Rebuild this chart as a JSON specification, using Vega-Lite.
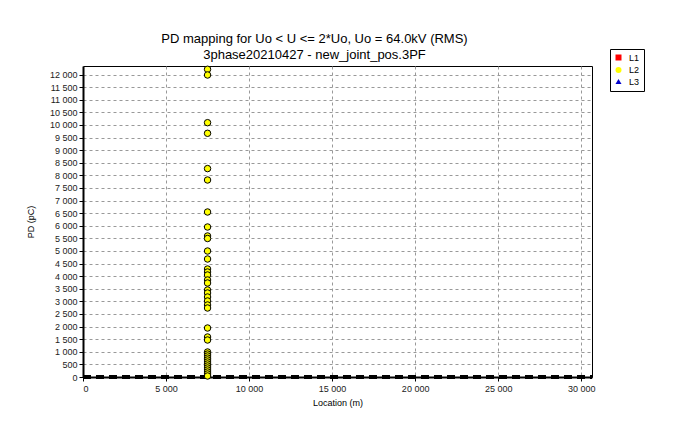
{
  "$schema": "https://vega.github.io/schema/vega-lite/v6.json",
  "width": 509,
  "height": 311,
  "autosize": {"type": "none"},
  "padding": {"left": 83, "top": 66, "right": 81, "bottom": 47},
  "background": "white",
  "config": {
    "locale": {"number": {"decimal": ".", "thousands": " ", "grouping": [3], "currency": ["", ""]}},
    "font": "Liberation Sans",
    "view": {"stroke": "#000", "strokeWidth": 1},
    "legend": {
      "orient": "none",
      "legendX": 527,
      "legendY": -17,
      "strokeColor": "#000",
      "fillColor": "white",
      "padding": 4,
      "labelFontSize": 9,
      "labelColor": "#000",
      "symbolSize": 36,
      "rowPadding": 1.5,
      "labelOffset": 6,
      "symbolStrokeColor": "#000",
      "symbolStrokeWidth": 0.8
    }
  },
  "title": {
    "text": "PD mapping for Uo < U <= 2*Uo, Uo = 64.0kV (RMS)",
    "subtitle": "3phase20210427 - new_joint_pos.3PF",
    "fontSize": 13,
    "fontWeight": "normal",
    "subtitleFontSize": 13,
    "subtitleColor": "#000",
    "color": "#000",
    "anchor": "middle",
    "dx": -23,
    "offset": -13,
    "subtitlePadding": 3,
    "font": "Liberation Sans",
    "subtitleFont": "Liberation Sans"
  },
  "datasets": {
    "cable": [{"loc": 0, "pd": 0}, {"loc": 30650, "pd": 0}],
    "pd": [
      {"loc": 7500, "pd": 12210, "phase": "L2"},
      {"loc": 7500, "pd": 11983, "phase": "L2"},
      {"loc": 7500, "pd": 10091, "phase": "L2"},
      {"loc": 7500, "pd": 9670, "phase": "L2"},
      {"loc": 7500, "pd": 8270, "phase": "L2"},
      {"loc": 7500, "pd": 7817, "phase": "L2"},
      {"loc": 7500, "pd": 6547, "phase": "L2"},
      {"loc": 7500, "pd": 5952, "phase": "L2"},
      {"loc": 7500, "pd": 5595, "phase": "L2"},
      {"loc": 7500, "pd": 5496, "phase": "L2"},
      {"loc": 7500, "pd": 4999, "phase": "L2"},
      {"loc": 7500, "pd": 4682, "phase": "L2"},
      {"loc": 7500, "pd": 4285, "phase": "L2"},
      {"loc": 7500, "pd": 4166, "phase": "L2"},
      {"loc": 7500, "pd": 4047, "phase": "L2"},
      {"loc": 7500, "pd": 3849, "phase": "L2"},
      {"loc": 7500, "pd": 3730, "phase": "L2"},
      {"loc": 7500, "pd": 3452, "phase": "L2"},
      {"loc": 7500, "pd": 3333, "phase": "L2"},
      {"loc": 7500, "pd": 3174, "phase": "L2"},
      {"loc": 7500, "pd": 3016, "phase": "L2"},
      {"loc": 7500, "pd": 2857, "phase": "L2"},
      {"loc": 7500, "pd": 2738, "phase": "L2"},
      {"loc": 7500, "pd": 1944, "phase": "L2"},
      {"loc": 7500, "pd": 1587, "phase": "L2"},
      {"loc": 7500, "pd": 1468, "phase": "L2"},
      {"loc": 7500, "pd": 992, "phase": "L2"},
      {"loc": 7500, "pd": 910, "phase": "L2"},
      {"loc": 7500, "pd": 833, "phase": "L2"},
      {"loc": 7500, "pd": 750, "phase": "L2"},
      {"loc": 7500, "pd": 675, "phase": "L2"},
      {"loc": 7500, "pd": 595, "phase": "L2"},
      {"loc": 7500, "pd": 516, "phase": "L2"},
      {"loc": 7500, "pd": 437, "phase": "L2"},
      {"loc": 7500, "pd": 357, "phase": "L2"},
      {"loc": 7500, "pd": 278, "phase": "L2"},
      {"loc": 7500, "pd": 198, "phase": "L2"},
      {"loc": 7500, "pd": 120, "phase": "L2"},
      {"loc": 7500, "pd": 40, "phase": "L2"}
    ]
  },
  "encoding": {
    "x": {
      "field": "loc",
      "type": "quantitative",
      "scale": {"domain": [0, 30650], "nice": false, "zero": false},
      "axis": {
        "values": [0, 5000, 10000, 15000, 20000, 25000, 30000],
        "format": ",d",
        "title": "Location (m)",
        "titleFontSize": 9,
        "titleFontWeight": "normal",
        "titleColor": "#000",
        "titlePadding": 5,
        "labelFontSize": 9,
        "labelColor": "#222",
        "labelPadding": 3,
        "labelOverlap": false,
        "grid": true,
        "gridDash": [3, 3],
        "gridColor": "#999",
        "gridWidth": 1,
        "domainColor": "#000",
        "domainWidth": 2,
        "tickColor": "#000",
        "tickSize": 4
      }
    },
    "y": {
      "field": "pd",
      "type": "quantitative",
      "scale": {"domain": [0, 12340], "nice": false, "zero": false},
      "axis": {
        "values": [0, 500, 1000, 1500, 2000, 2500, 3000, 3500, 4000, 4500, 5000, 5500, 6000, 6500, 7000, 7500, 8000, 8500, 9000, 9500, 10000, 10500, 11000, 11500, 12000],
        "format": ",d",
        "title": "PD (pC)",
        "titleFontSize": 9,
        "titleFontWeight": "normal",
        "titleColor": "#000",
        "titlePadding": 14,
        "labelFontSize": 9,
        "labelColor": "#222",
        "labelPadding": 2,
        "labelOverlap": false,
        "labelFlush": false,
        "grid": true,
        "gridDash": [3, 3],
        "gridColor": "#999",
        "gridWidth": 1,
        "domainColor": "#000",
        "domainWidth": 2,
        "tickColor": "#000",
        "tickSize": 4
      }
    }
  },
  "layer": [
    {
      "data": {"name": "cable"},
      "mark": {"type": "line", "color": "#000", "strokeWidth": 4, "strokeDash": [8, 5], "clip": false},
      "encoding": {}
    },
    {
      "data": {"name": "pd"},
      "mark": {"type": "point", "filled": true, "stroke": "#000", "strokeWidth": 1, "size": 42, "opacity": 1},
      "encoding": {
        "shape": {
          "field": "phase",
          "type": "nominal",
          "scale": {"domain": ["L1", "L2", "L3"], "range": ["square", "circle", "triangle-up"]},
          "legend": {"title": null}
        },
        "fill": {
          "field": "phase",
          "type": "nominal",
          "scale": {"domain": ["L1", "L2", "L3"], "range": ["#ff0000", "#ffff00", "#0000cc"]},
          "legend": {"title": null}
        }
      }
    }
  ]
}
